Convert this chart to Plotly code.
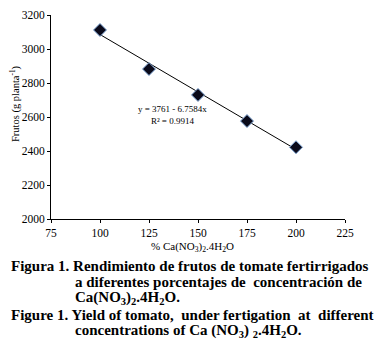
import plotly.graph_objects as go

ca_pct = [100, 125, 150, 175, 200]
frutos = [3112, 2882, 2730, 2576, 2422]
intercept = 3761
slope = -6.7584
x_ticks = [75, 100, 125, 150, 175, 200, 225]
y_ticks = [2000, 2200, 2400, 2600, 2800, 3000, 3200]

fit_x = [ca_pct[0], ca_pct[-1]]
fit_y = [intercept + slope * v for v in fit_x]

SERIF = "Liberation Serif, Times New Roman, serif"
OFF = 8  # default page body margin
W, H = 385 - OFF, 351 - OFF
ML, MR, MT, MB = 51 - OFF, 40, 15 - OFF, 132
pw = W - ML - MR
ph = H - MT - MB


def px2paper(px, py):
    fx, fy = px - OFF, py - OFF
    return (fx - ML) / pw, (H - MB - fy) / ph


fig = go.Figure()
fig.add_trace(go.Scatter(x=fit_x, y=fit_y, mode="lines",
                         line=dict(color="black", width=1), showlegend=False))
fig.add_trace(go.Scatter(x=ca_pct, y=frutos, mode="markers",
                         marker=dict(symbol="diamond", size=10, color="#0a0a1a",
                                     line=dict(color="#7fa6d6", width=1)),
                         showlegend=False))

fig.add_annotation(x=137, y=2612, xref="x", yref="y",
                   text="y = 3761 - 6.7584x<br>R² = 0.9914", showarrow=False,
                   font=dict(family=SERIF, size=9, color="black"), align="center")

fig.update_layout(
    width=W, height=H,
    margin=dict(l=ML, r=MR, t=MT, b=MB),
    paper_bgcolor="white", plot_bgcolor="white",
    font=dict(family=SERIF, color="black"),
    xaxis=dict(range=[75, 225], tickvals=x_ticks, showline=True, linecolor="black",
               linewidth=1, ticks="outside", ticklen=3, tickcolor="black",
               showgrid=False, zeroline=False, tickfont=dict(size=11.5), automargin=False),
    yaxis=dict(range=[2000, 3200], tickvals=y_ticks, showline=True, linecolor="black",
               linewidth=1, ticks="outside", ticklen=3, tickcolor="black",
               showgrid=False, zeroline=False, tickfont=dict(size=11.5), automargin=False),
)

# axis titles
ax, ay = px2paper(192, 238)
fig.add_annotation(x=ax, y=ay, xref="paper", yref="paper", showarrow=False,
                   text="% Ca(NO<sub>3</sub>)<sub>2</sub>.4H<sub>2</sub>O",
                   font=dict(family=SERIF, size=11, color="black"),
                   xanchor="center", yanchor="top")
ax, ay = px2paper(15, 104)
fig.add_annotation(x=ax, y=ay, xref="paper", yref="paper", showarrow=False,
                   text="Frutos (g planta<sup>-1</sup>)", textangle=-90,
                   font=dict(family=SERIF, size=10.5, color="black"),
                   xanchor="center", yanchor="middle")

cap_font = dict(family=SERIF, size=15, color="black")
sp = "&nbsp;"
lines = [
    (9, 266, "<b>Figura 1. Rendimiento de frutos de tomate fertirrigados</b>"),
    (73, 282, "<b>a diferentes porcentajes de" + sp + " concentración de</b>"),
    (73, 298, "<b>Ca(NO<sub>3</sub>)<sub>2</sub>.4H<sub>2</sub>O.</b>"),
    (9, 315, "<b>Figure 1. Yield of tomato," + sp + " under fertigation" + sp + " at"
     + sp + " different</b>"),
    (73, 331, "<b>concentrations of Ca (NO<sub>3</sub>) <sub>2</sub>.4H<sub>2</sub>O.</b>"),
]
for px, py, t in lines:
    ax, ay = px2paper(px, py)
    fig.add_annotation(x=ax, y=ay, xref="paper", yref="paper",
                       text=t, showarrow=False, xanchor="left", yanchor="middle",
                       font=cap_font, align="left")

fig.write_html("out.html")
